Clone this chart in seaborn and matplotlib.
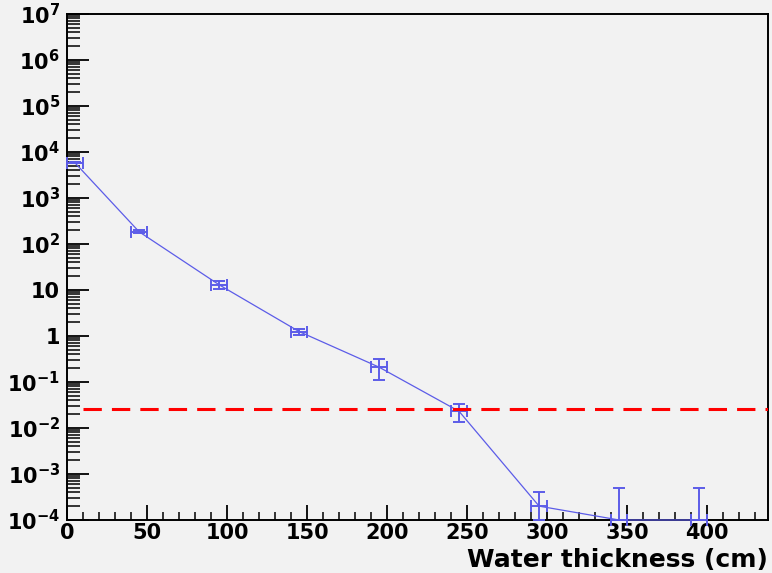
import numpy as np
import pandas as pd
import matplotlib
matplotlib.use("Agg")
import matplotlib.pyplot as plt
import matplotlib.ticker as mticker
import seaborn as sns

# transmission vs water thickness
thickness = [5, 45, 95, 145, 195, 245, 295, 345, 395]
thickness_err = [5, 5, 5, 5, 5, 5, 5, 5, 5]
counts = [5800, 185, 13, 1.25, 0.21, 0.023, 2e-4, 1e-4, 1e-4]
counts_err_lo = [150, 12, 2.5, 0.2, 0.1, 0.0095, 1e-4, 0, 0]
counts_err_hi = [150, 12, 2.5, 0.2, 0.1, 0.0095, 2e-4, 4e-4, 4e-4]
limit = 0.026

ytick_vals = [1e-4, 1e-3, 1e-2, 1e-1, 1, 10, 1e2, 1e3, 1e4, 1e5, 1e6, 1e7]
ytick_labels = [r"$\mathbf{10^{-4}}$", r"$\mathbf{10^{-3}}$", r"$\mathbf{10^{-2}}$",
                r"$\mathbf{10^{-1}}$", "1", "10", r"$\mathbf{10^{2}}$",
                r"$\mathbf{10^{3}}$", r"$\mathbf{10^{4}}$", r"$\mathbf{10^{5}}$",
                r"$\mathbf{10^{6}}$", r"$\mathbf{10^{7}}$"]
xtick_vals = [0, 50, 100, 150, 200, 250, 300, 350, 400]

df = pd.DataFrame({"thickness": thickness, "counts": counts})

sns.set_style("ticks")
plt.rcParams["font.family"] = ["DejaVu Sans"]
plt.rcParams["font.weight"] = "bold"
plt.rcParams["mathtext.fontset"] = "custom"
plt.rcParams["mathtext.bf"] = "DejaVu Sans:bold"
plt.rcParams["mathtext.rm"] = "DejaVu Sans:bold"
plt.rcParams["text.color"] = "black"
plt.rcParams["xtick.color"] = "black"
plt.rcParams["ytick.color"] = "black"
plt.rcParams["axes.labelcolor"] = "black"

bg = "#f2f2f2"
blue = "#5c5ce8"

fig = plt.figure(figsize=(7.72, 5.73), dpi=100, facecolor=bg)
ax = fig.add_axes([0.0868, 0.0925, 0.9080, 0.8831])
ax.set_facecolor(bg)

sns.lineplot(data=df, x="thickness", y="counts", color=blue, linewidth=0.9,
             ax=ax, zorder=3)
ax.lines[-1].set_clip_on(False)
eb = ax.errorbar(thickness, counts, yerr=[counts_err_lo, counts_err_hi],
                 xerr=thickness_err, fmt="none", ecolor=blue, elinewidth=1.4,
                 capsize=4, capthick=1.4, zorder=3)
for art in eb.lines[1] + eb.lines[2]:
    art.set_clip_on(False)

ax.hlines(limit, 10, 440, colors="#ff0000", linewidth=2.2,
          linestyles=(0, (6, 3.3)), zorder=3)

ax.set_yscale("log")
ax.set_ylim(1e-4, 1e7)
ax.set_xlim(0, 438)

ax.yaxis.set_major_locator(mticker.FixedLocator(ytick_vals))
ax.yaxis.set_major_formatter(mticker.FixedFormatter(ytick_labels))
ax.yaxis.set_minor_locator(mticker.LogLocator(base=10, subs=np.arange(2, 10), numticks=100))
ax.yaxis.set_minor_formatter(mticker.NullFormatter())
ax.xaxis.set_major_locator(mticker.FixedLocator(xtick_vals))
ax.xaxis.set_minor_locator(mticker.MultipleLocator(10))

ax.tick_params(axis="y", which="major", direction="in", length=16, width=1.3,
               labelsize=15, pad=5, right=False, colors="black")
ax.tick_params(axis="y", which="minor", direction="in", length=9, width=1.1,
               right=False, colors="black")
ax.tick_params(axis="x", which="major", direction="in", length=11, width=1.3,
               labelsize=15, pad=2, top=False, colors="black")
ax.tick_params(axis="x", which="minor", direction="in", length=5.5, width=1.1,
               top=False, colors="black")

for sp in ax.spines.values():
    sp.set_visible(True)
    sp.set_linewidth(1.4)
    sp.set_color("black")

ax.set_ylabel("")
ax.set_xlabel("Water thickness (cm)", fontsize=18, fontweight="bold",
              color="black", labelpad=2)
ax.xaxis.set_label_coords(1.0, -0.055)
ax.xaxis.label.set_horizontalalignment("right")

fig.savefig("out.png", dpi=100, facecolor=bg)
